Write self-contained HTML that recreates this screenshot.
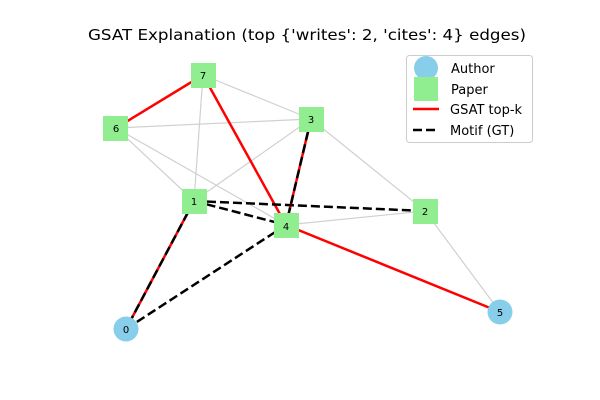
<!DOCTYPE html>
<html><head><style>body{margin:0;background:#fff}svg{display:block}</style></head><body>
<svg width="600" height="400" xmlns="http://www.w3.org/2000/svg" font-family="DejaVu Sans, Liberation Sans, sans-serif">
<text x="88" y="40" font-size="15.5" textLength="438" lengthAdjust="spacingAndGlyphs" fill="#000">GSAT Explanation (top {'writes': 2, 'cites': 4} edges)</text>
<g stroke="#d0d0d0" stroke-width="1.2">
<line x1="203" y1="75" x2="311" y2="119"/>
<line x1="203" y1="75" x2="194" y2="201"/>
<line x1="116" y1="128" x2="311" y2="119"/>
<line x1="116" y1="128" x2="194" y2="201"/>
<line x1="116" y1="128" x2="286" y2="225"/>
<line x1="311" y1="119" x2="194" y2="201"/>
<line x1="311" y1="119" x2="425" y2="211"/>
<line x1="286" y1="225" x2="425" y2="211"/>
<line x1="425" y1="211" x2="500" y2="312"/>
</g>
<g stroke="#ff0000" stroke-width="2.5">
<line x1="203" y1="75" x2="116" y2="128"/>
<line x1="203" y1="75" x2="286" y2="225"/>
<line x1="311" y1="119" x2="286" y2="225"/>
<line x1="194" y1="201" x2="126" y2="329"/>
<line x1="286" y1="225" x2="500" y2="312"/>
</g>
<g stroke="#000" stroke-width="2.5" stroke-dasharray="9,4">
<line x1="194" y1="201" x2="425" y2="211"/>
<line x1="194" y1="201" x2="286" y2="225"/>
<line x1="126" y1="329" x2="286" y2="225"/>
<line x1="311" y1="119" x2="286" y2="225"/>
<line x1="194" y1="201" x2="126" y2="329"/>
</g>
<g fill="#90ee90">
<rect x="191" y="63" width="25" height="25"/>
<rect x="103" y="116" width="25" height="25"/>
<rect x="299" y="107" width="25" height="25"/>
<rect x="182" y="189" width="25" height="25"/>
<rect x="274" y="213" width="25" height="25"/>
<rect x="413" y="199" width="25" height="25"/>
</g>
<g fill="#87ceeb">
<circle cx="126" cy="329" r="12.5"/>
<circle cx="500" cy="312" r="12.5"/>
</g>
<g font-size="10" text-anchor="middle" fill="#000">
<text x="203" y="79">7</text><text x="116" y="132">6</text><text x="311" y="123">3</text>
<text x="194" y="205">1</text><text x="286" y="230">4</text><text x="425" y="215">2</text>
<text x="126" y="333">0</text><text x="500" y="316">5</text>
</g>
<rect x="406.5" y="55.5" width="126" height="87" rx="3" fill="#fff" fill-opacity="0.8" stroke="#ccc"/>
<circle cx="426" cy="68" r="12" fill="#87ceeb"/>
<rect x="414" y="77" width="24" height="24" fill="#90ee90"/>
<line x1="413" y1="109" x2="439" y2="109" stroke="#f00" stroke-width="2.5"/>
<line x1="413" y1="130" x2="439" y2="130" stroke="#000" stroke-width="2.5" stroke-dasharray="9,4"/>
<g font-size="13" fill="#000">
<text x="451" y="73">Author</text><text x="451" y="94">Paper</text>
<text x="450" y="114">GSAT top-k</text><text x="450" y="135">Motif (GT)</text>
</g>
</svg>
</body></html>
